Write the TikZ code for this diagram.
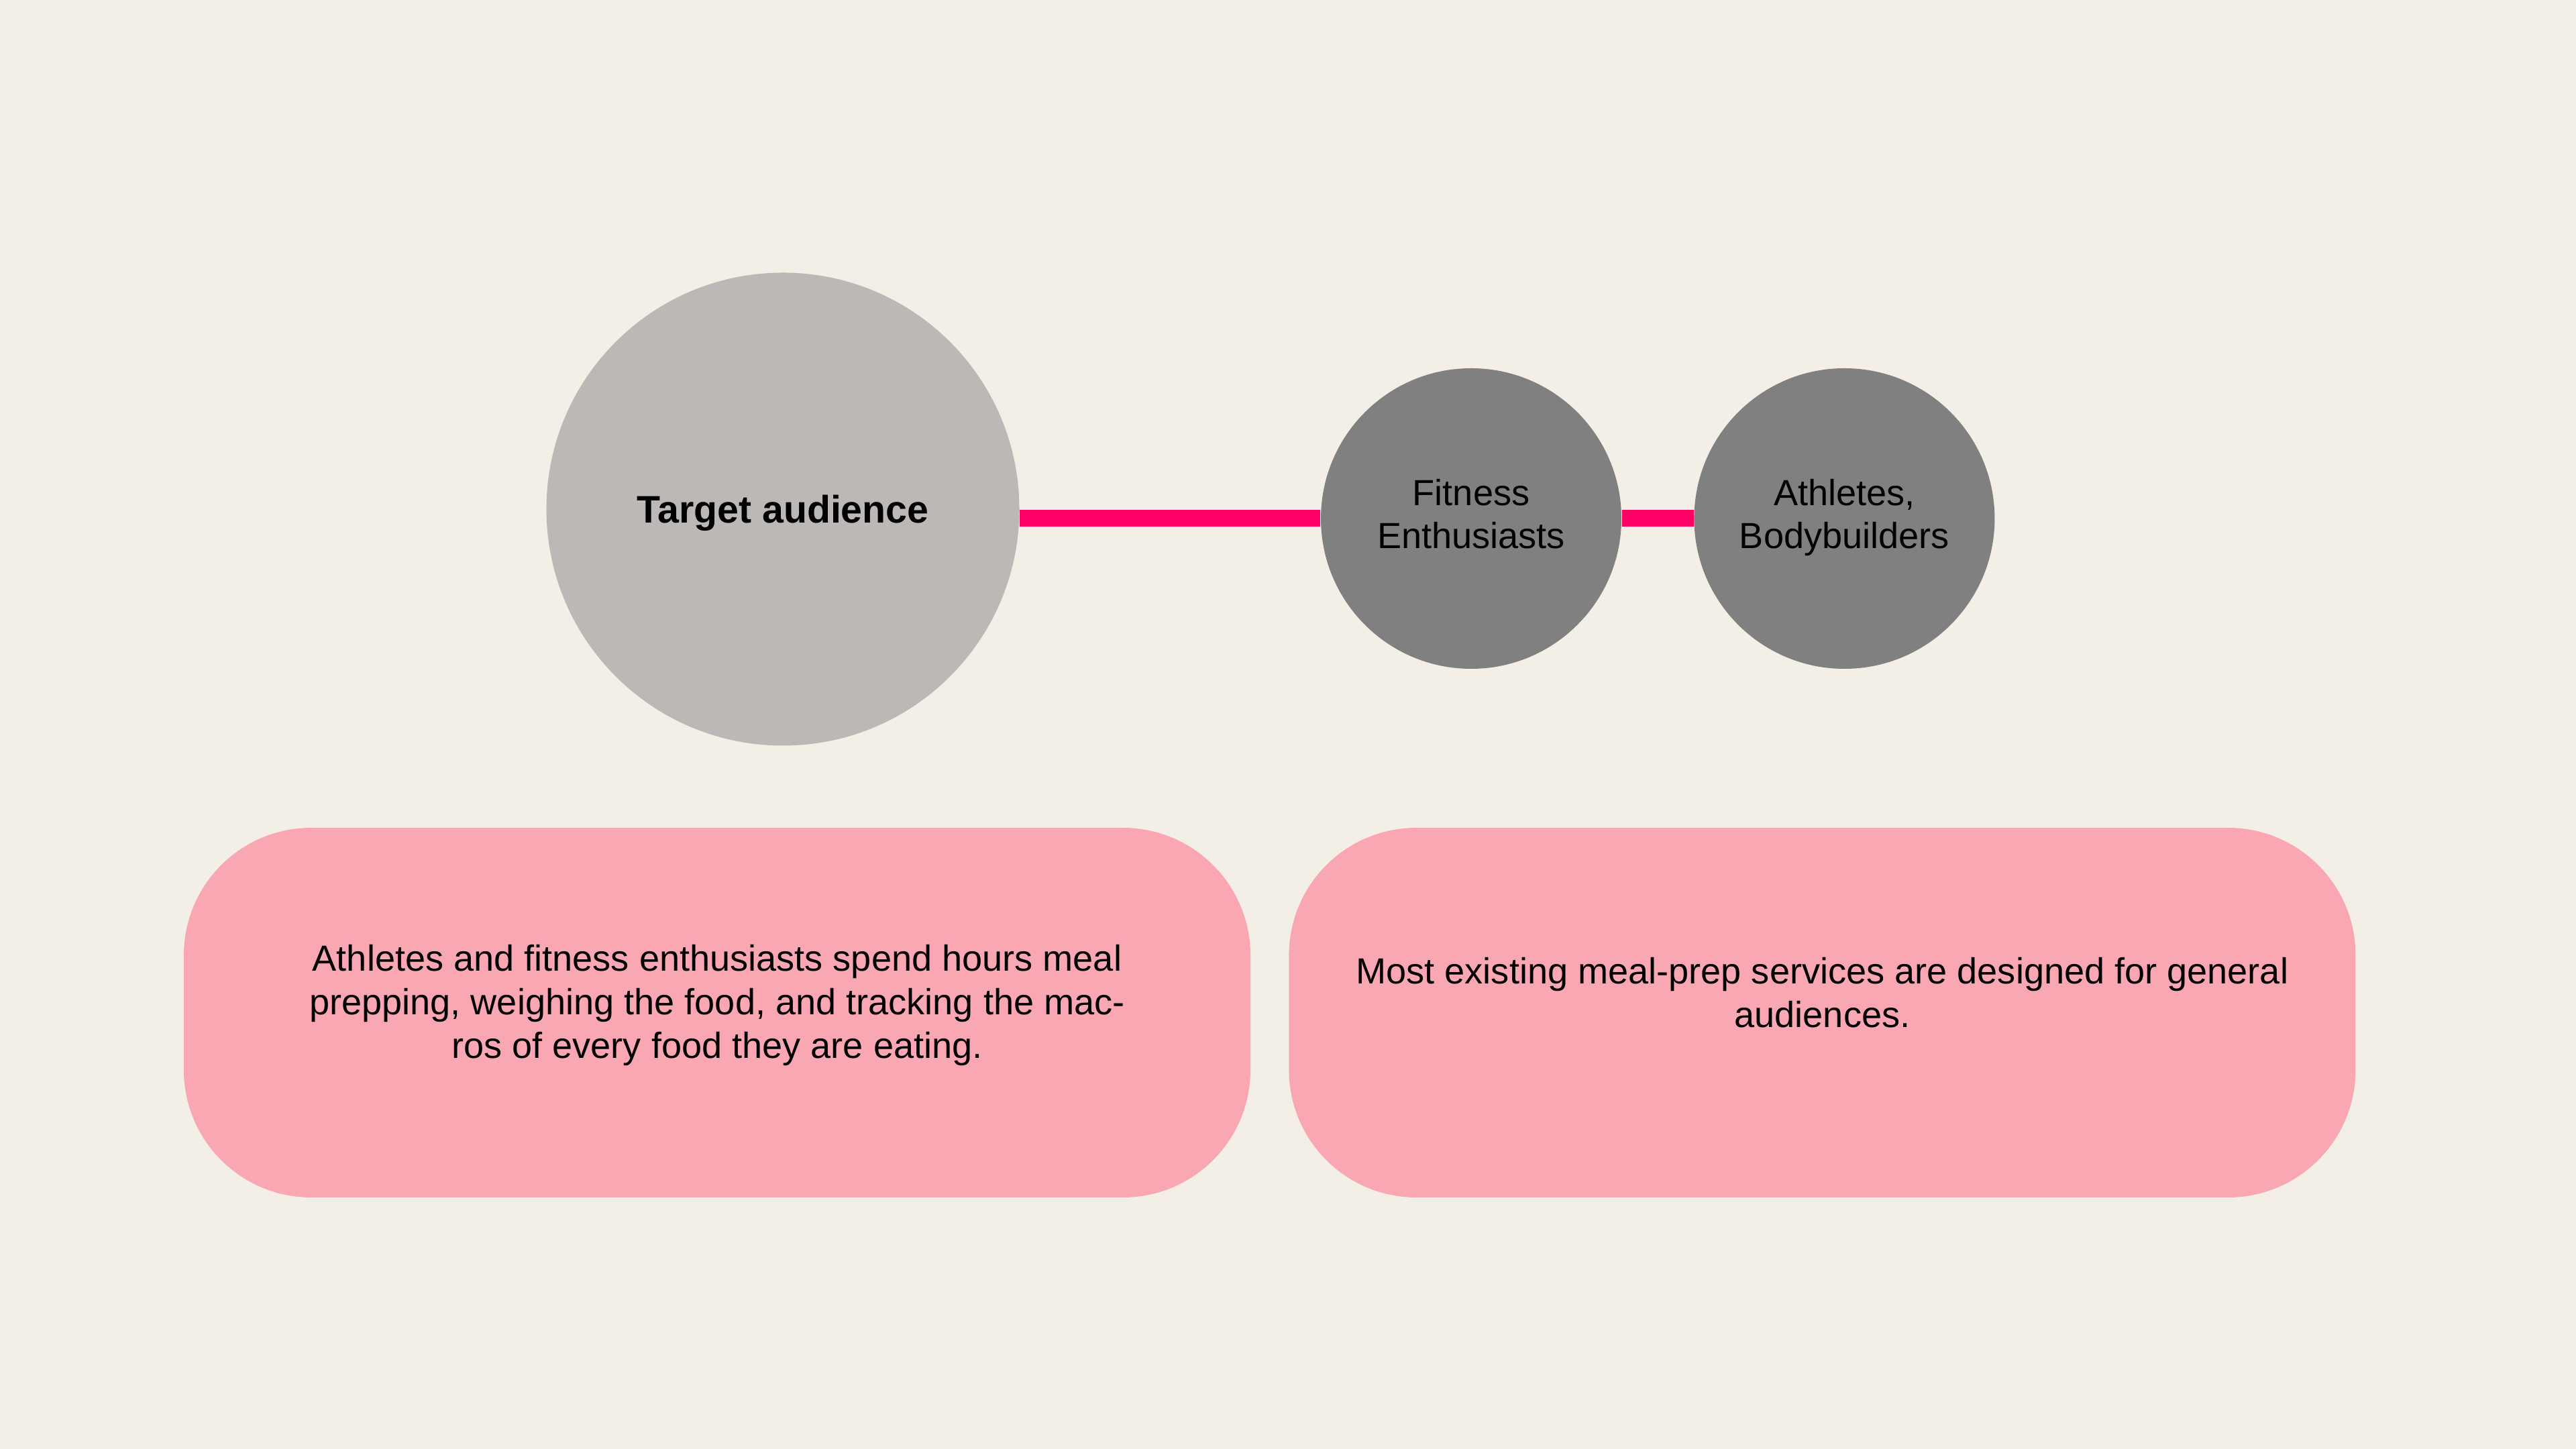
\documentclass[tikz,border=0pt]{standalone}
\usepackage{fontspec}
\setmainfont{Liberation Sans}
\usetikzlibrary{positioning}

\definecolor{paper}{HTML}{F3EFE7}
\definecolor{hubgray}{HTML}{BBB8B6}
\definecolor{groupgray}{HTML}{808080}
\definecolor{linkpink}{HTML}{FF0066}
\definecolor{notepink}{HTML}{FAA7B4}

\begin{document}
\begin{tikzpicture}[
        hub/.style={circle,fill=hubgray,minimum size=7.05cm,inner sep=0pt,
            text depth=0pt,font=\fontsize{16.3}{19}\selectfont\bfseries},
        group/.style={circle,fill=groupgray,minimum size=4.48cm,inner sep=0pt,
            text depth=0.14cm,align=center,font=\fontsize{15.4}{18.4}\selectfont},
        note/.style={rounded corners=1.9cm,fill=notepink,
            minimum width=15.9cm,minimum height=5.51cm},
        notetext/.style={align=center,font=\fontsize{15.4}{18.4}\selectfont},
        link/.style={draw=linkpink,line width=0.25cm}
    ]
    \useasboundingbox (0,0) rectangle (38.4,21.6);
    \fill[paper] (0,0) rectangle (38.4,21.6);

    % audience circles
    \node[hub] (target) at (11.67,14.01) {Target audience};
    \node[group] (fitness) at (21.93,13.87) {Fitness\\Enthusiasts};
    \node[group, right=1.07cm of fitness] (athletes) {Athletes,\\Bodybuilders};

    \draw[link] (target.east |- fitness.west) -- (fitness.west);
    \draw[link] (fitness.east) -- (athletes.west);

    % notes below
    \node[note] (problem) at (10.69,6.505) {};
    \node[note, right=0.56cm of problem] (market) {};

    \node[notetext] (problemtext) at ([yshift=0.11cm]problem.center)
        {Athletes and fitness enthusiasts spend hours meal\\
         prepping, weighing the food, and tracking the mac-\\
         ros of every food they are eating.};
    \node[notetext] (markettext) at ([yshift=0.3cm]market.center)
        {Most existing meal-prep services are designed for general\\
         audiences.};
\end{tikzpicture}
\end{document}
